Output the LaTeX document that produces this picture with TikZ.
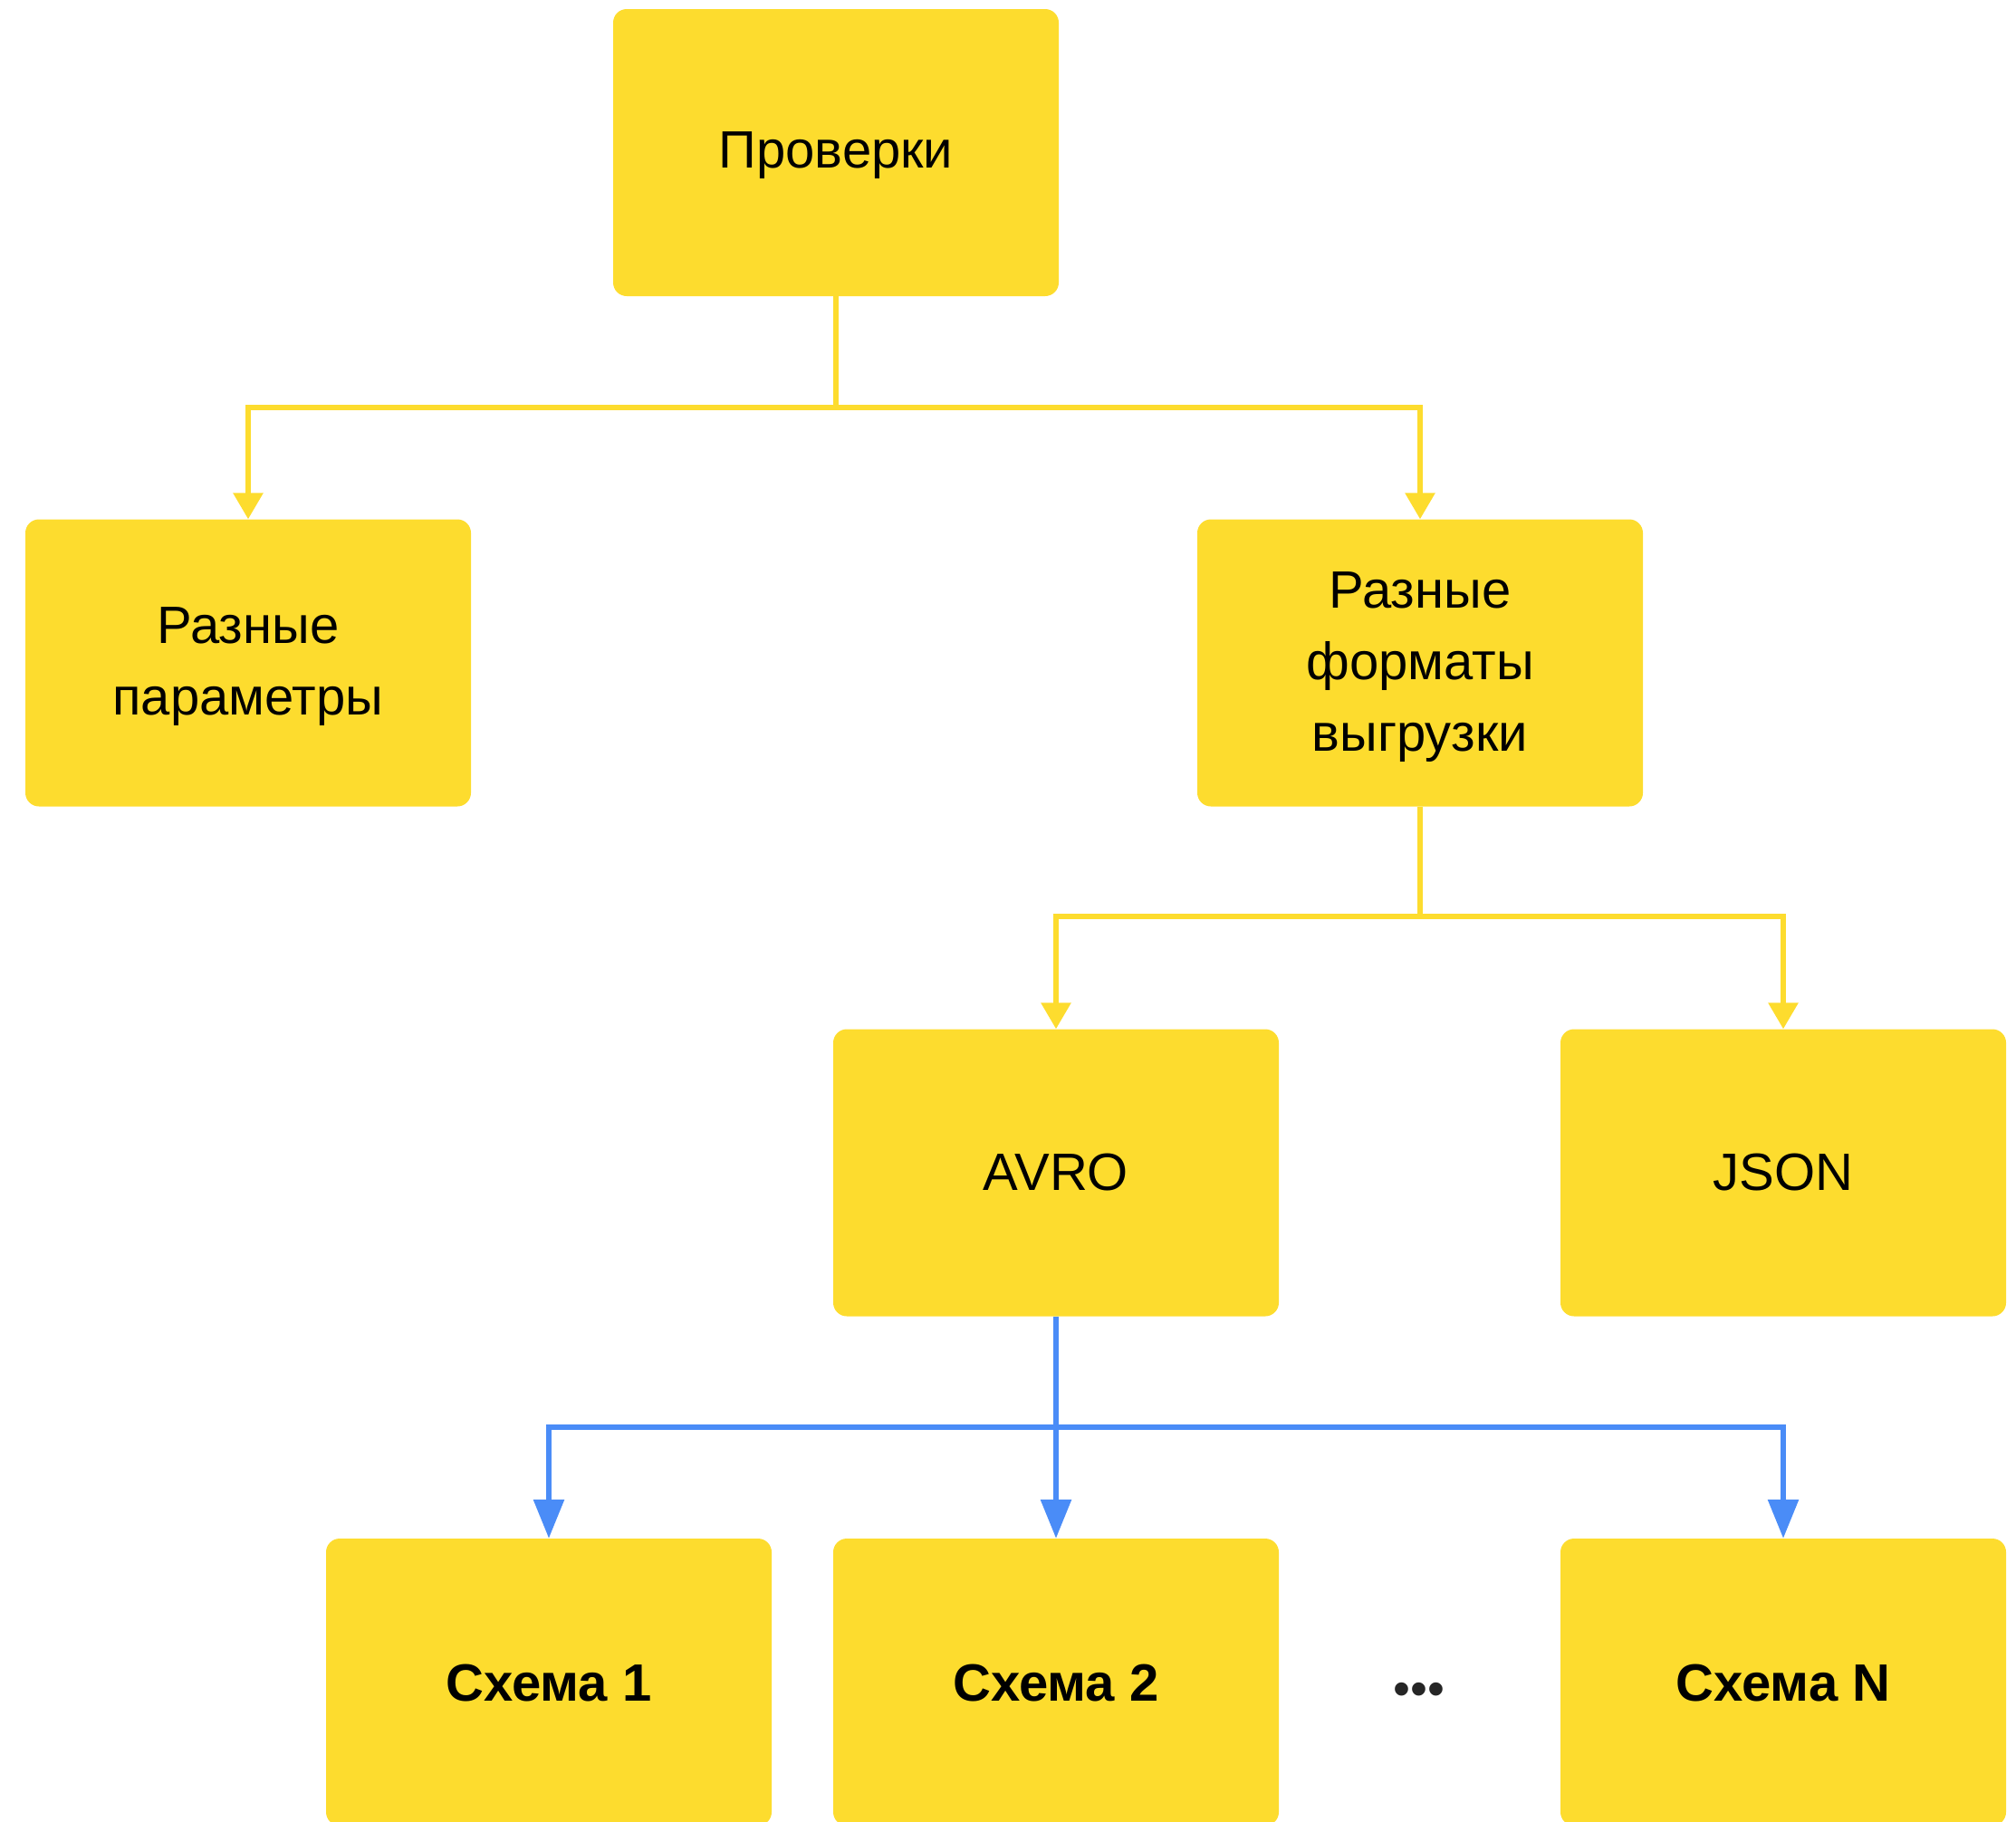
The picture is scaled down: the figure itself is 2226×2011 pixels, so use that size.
\documentclass[tikz,border=0pt]{standalone}
\usepackage{fontspec}
\setmainfont{Liberation Sans}
\usetikzlibrary{arrows.meta}
\definecolor{boxyellow}{HTML}{FDDC2E}
\definecolor{linkblue}{HTML}{4A8CF7}
\definecolor{dotgray}{HTML}{262626}
% lowers one line of text without changing the size the node reserves for it
\newcommand\dropline[2]{\raisebox{-#1}[\height][\depth]{#2}}
\begin{document}
\begin{tikzpicture}[x=1pt,y=-1pt,
  card/.style={rectangle, rounded corners=15pt, fill=boxyellow, draw=none,
    minimum width=492pt, minimum height=317pt, inner sep=0pt, align=center,
    text=black, font=\fontsize{58}{79}\selectfont},
  boldcard/.style={card, font=\fontsize{58}{79}\selectfont\bfseries},
  yline/.style={draw=boxyellow, line width=6pt},
  yarrow/.style={yline, -{Triangle[width=32pt,length=29pt]}},
  bline/.style={draw=linkblue, line width=6pt},
  barrow/.style={bline, -{Triangle[width=33pt,length=43pt]}}]
\useasboundingbox (0,0) rectangle (2226,2011);

% boxes
\node[card] (checks) at (923,168.5) {\dropline{3pt}{Проверки}};
\node[card] (params) at (274,732) {\dropline{4pt}{Разные}\\\dropline{4pt}{параметры}};
\node[card] (formats) at (1568,732) {\dropline{5pt}{Разные}\\\dropline{5pt}{форматы}\\\dropline{5pt}{выгрузки}};
\node[card] (avro) at (1166,1295) {AVRO};
\node[card] (json) at (1969,1295) {JSON};
\node[boldcard] (s1) at (606,1857.5) {\dropline{1pt}{Схема 1}};
\node[boldcard] (s2) at (1166,1857.5) {\dropline{1pt}{Схема 2}};
\node[boldcard] (sn) at (1969,1857.5) {\dropline{1pt}{Схема N}};
\node[text=dotgray, font=\fontsize{54}{54}\selectfont, inner sep=0pt] (dots) at (1567,1871) {•••};

% junction points of the connectors
\coordinate (j1) at (923,450);
\coordinate (j2) at (1568,1012);
\coordinate (j3) at (1166,1576);

% yellow connectors
\draw[yline] (checks) -- (j1);
\draw[yarrow] (j1) -| (params);
\draw[yarrow] (j1) -| (formats);
\draw[yline] (formats) -- (j2);
\draw[yarrow] (j2) -| (avro);
\draw[yarrow] (j2) -| (json);

% blue connectors
\draw[bline] (avro) -- (j3);
\draw[barrow] (j3) -| (s1);
\draw[barrow] (j3) -- (s2);
\draw[barrow] (j3) -| (sn);
\end{tikzpicture}
\end{document}
